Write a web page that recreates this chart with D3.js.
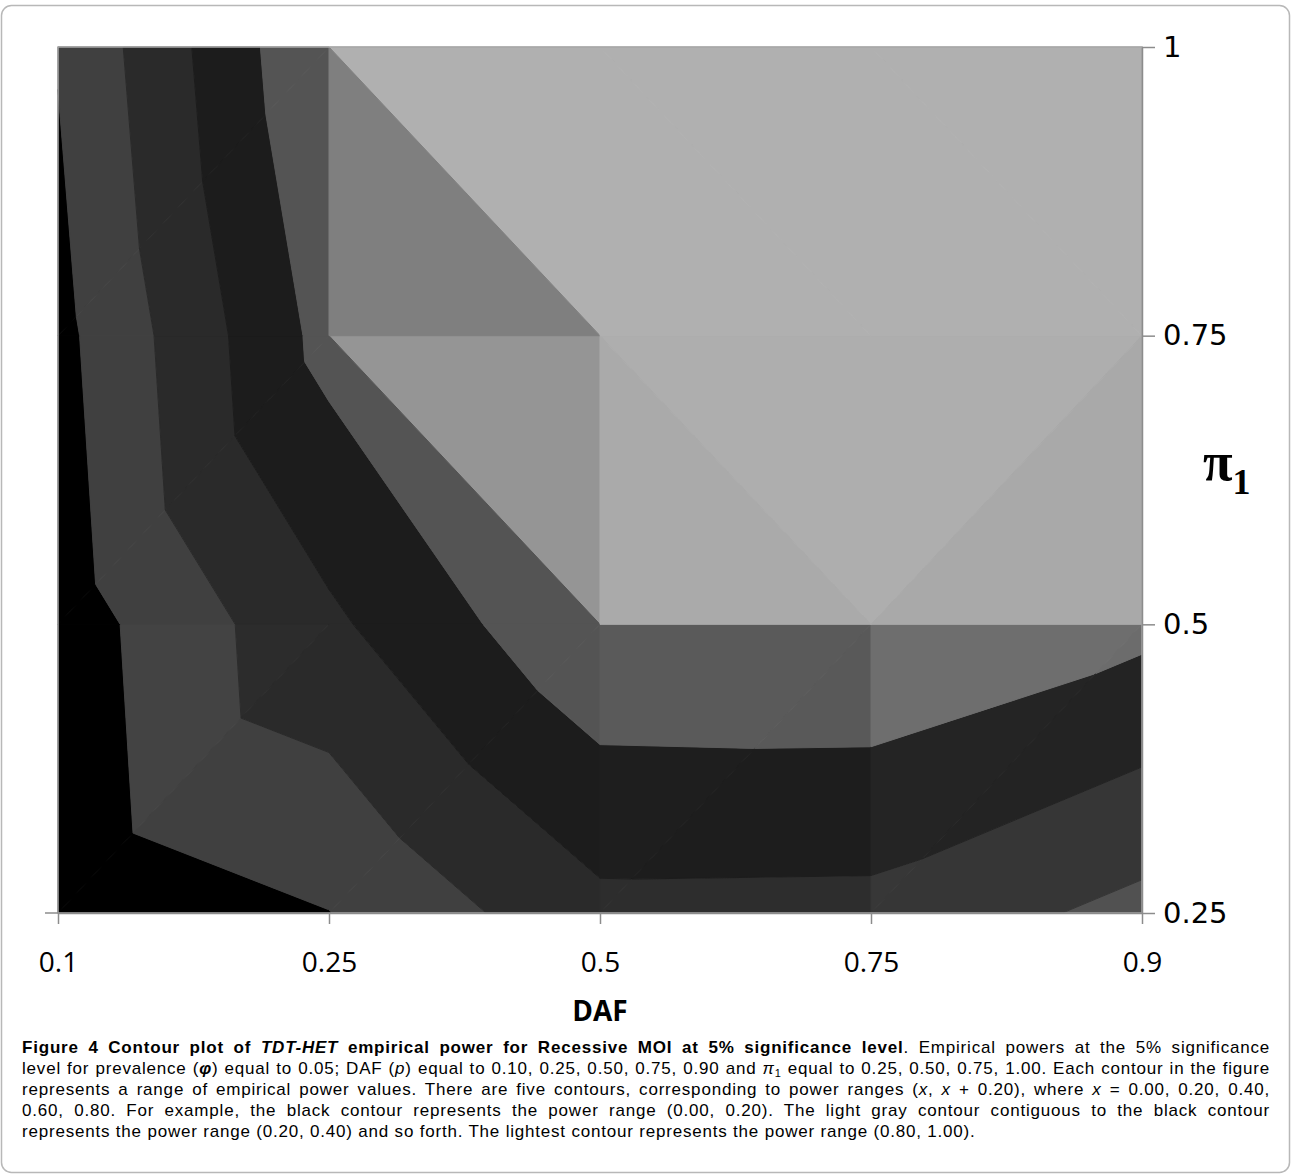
<!DOCTYPE html>
<html>
<head>
<meta charset="utf-8">
<script src="https://cdn.jsdelivr.net/npm/d3@7"></script>
<style>
  body { margin: 0; background: #fff; }
  text { fill: #000; }
</style>
</head>
<body>
<svg id="chart" width="1292" height="1176"></svg>
<script>

// DAF categories along x, pi1 levels along y
var dafLabels = ["0.1", "0.25", "0.5", "0.75", "0.9"];
var pi1Levels = [0.25, 0.5, 0.75, 1];

// empirical power, one row per pi1 level, across DAF
var power025 = [0.061, 0.196, 0.548, 0.542, 0.341];
var power050 = [0.092, 0.563, 0.98, 0.99, 0.853];
var power075 = [0.142, 0.87, 1.0, 1.0, 1.0];
var power100 = [0.21, 1.0, 1.0, 1.0, 1.0];

// contour breaks: power ranges of 0.20
var breaks = [0, 0.2, 0.4, 0.6, 0.8, 1.0];

// flat-surface gray for each band (excel grayscale surface style)
var bandGray = [0, 133, 88, 58, 176];

function drawChart() {

	var svg = d3.select("#chart");
	var grid = [power025, power050, power075, power100];

	var x = d3.scalePoint().domain(dafLabels).range([58, 1142]);
	var y = d3.scaleLinear().domain([0.25, 1]).range([913, 47]);

	// grid index -> pixel (categories are evenly spaced)
	var xi = d3.scaleLinear().domain([0, dafLabels.length - 1])
		.range([x(dafLabels[0]), x(dafLabels[dafLabels.length - 1])]);
	var yi = d3.scaleLinear().domain([0, pi1Levels.length - 1])
		.range([y(pi1Levels[0]), y(pi1Levels[pi1Levels.length - 1])]);

	// outer figure frame
	svg.append("rect")
		.attr("x", 1.5).attr("y", 5.5)
		.attr("width", 1288).attr("height", 1167)
		.attr("rx", 10)
		.style("fill", "none")
		.style("stroke", "#b8b8b8")
		.style("stroke-width", 1.5);

	// split every cell in two triangles along the diagonal with the higher sum
	var tris = [];
	for (var j = 0; j < pi1Levels.length - 1; j++) {
		for (var i = 0; i < dafLabels.length - 1; i++) {
			var bl = { i: i, j: j, v: grid[j][i] },
				br = { i: i + 1, j: j, v: grid[j][i + 1] },
				tl = { i: i, j: j + 1, v: grid[j + 1][i] },
				tr = { i: i + 1, j: j + 1, v: grid[j + 1][i + 1] };
			if (tl.v + br.v >= bl.v + tr.v) {
				tris.push([tl, tr, br]);
				tris.push([tl, br, bl]);
			} else {
				tris.push([bl, tr, tl]);
				tris.push([bl, br, tr]);
			}
		}
	}

	function clip(poly, t, above) {
		var out = [];
		for (var k = 0; k < poly.length; k++) {
			var a = poly[k], b = poly[(k + 1) % poly.length];
			var ina = above ? a.v >= t : a.v <= t;
			var inb = above ? b.v >= t : b.v <= t;
			if (ina) out.push(a);
			if (ina !== inb) {
				var s = (t - a.v) / (b.v - a.v);
				out.push({ i: a.i + s * (b.i - a.i), j: a.j + s * (b.j - a.j), v: t });
			}
		}
		return out;
	}

	// facet shading: light from upper right, some ambient
	function shade(tri) {
		var p0 = tri[0], p1 = tri[1], p2 = tri[2];
		var d1i = p1.i - p0.i, d1j = p1.j - p0.j, d1v = p1.v - p0.v;
		var d2i = p2.i - p0.i, d2j = p2.j - p0.j, d2v = p2.v - p0.v;
		var det = d1i * d2j - d2i * d1j;
		var gx = (d1v * d2j - d2v * d1j) / det;
		var gy = (d1i * d2v - d2i * d1v) / det;
		var diff = (1 - 1.89 * gx - 2.13 * gy) / Math.sqrt(1 + gx * gx + gy * gy);
		return 0.48 + 0.52 * Math.max(0, diff);
	}

	var line = d3.line()
		.x(function(p) { return xi(p.i); })
		.y(function(p) { return yi(p.j); });

	var pieces = [];
	tris.forEach(function(tri) {
		var L = shade(tri);
		for (var b = 0; b < breaks.length - 1; b++) {
			var poly = tri;
			if (b > 0) poly = clip(poly, breaks[b], true);
			if (b < breaks.length - 2) poly = clip(poly, breaks[b + 1], false);
			if (poly.length < 3) continue;
			var g = Math.min(255, Math.round(bandGray[b] * L));
			pieces.push({ poly: poly, color: d3.rgb(g, g, g).toString() });
		}
	});

	var plot = svg.append("g").attr("class", "contours");
	plot.selectAll("path")
		.data(pieces)
		.enter()
		.append("path")
		.attr("d", function(d) { return line(d.poly) + "Z"; })
		.style("fill", function(d) { return d.color; })
		.style("stroke", function(d) { return d.color; })
		.style("stroke-width", 1)
		.style("stroke-linejoin", "round");

	// plot area border
	svg.append("rect")
		.attr("x", 58).attr("y", 47)
		.attr("width", 1142 - 58).attr("height", 913 - 47)
		.style("fill", "none")
		.style("stroke", "#a6a6a6")
		.style("stroke-width", 1.5);

	// bottom axis (DAF)
	var xAxis = svg.append("g")
		.attr("class", "x axis")
		.attr("transform", "translate(0,913)")
		.call(d3.axisBottom(x).tickSize(11).tickSizeOuter(0).tickPadding(28));
	xAxis.selectAll("path, line").style("stroke", "#8c8c8c").style("stroke-width", 1.5);
	xAxis.selectAll("text")
		.style("font-family", "'Open Sans', sans-serif")
		.style("font-size", "28px")
		.style("fill", "#000");

	// stray depth tick on the left
	svg.append("line")
		.attr("x1", 45).attr("x2", 58)
		.attr("y1", y(0.25)).attr("y2", y(0.25))
		.style("stroke", "#8c8c8c").style("stroke-width", 1.5);

	// right axis (pi1)
	var yAxis = svg.append("g")
		.attr("class", "y axis")
		.attr("transform", "translate(1142,0)")
		.call(d3.axisRight(y).tickValues(pi1Levels).tickSize(13).tickSizeOuter(0).tickPadding(8)
			.tickFormat(function(d) { return String(d); }));
	yAxis.selectAll("path, line").style("stroke", "#8c8c8c").style("stroke-width", 1.5);
	yAxis.selectAll("text")
		.style("font-family", "'DejaVu Sans', sans-serif")
		.style("font-size", "29px")
		.style("fill", "#000");

	// axis titles
	svg.append("text")
		.attr("x", 600).attr("y", 1021)
		.attr("text-anchor", "middle")
		.style("font-family", "'Open Sans', sans-serif")
		.style("font-weight", 700)
		.style("font-size", "28px")
		.text("DAF");

	var piTitle = svg.append("text")
		.attr("x", 1203).attr("y", 480)
		.style("font-family", "'Liberation Serif', serif")
		.style("font-weight", 700)
		.style("font-size", "54px");
	piTitle.append("tspan").text("\u03c0");
	piTitle.append("tspan").attr("dy", 14).style("font-size", "36px").text("1");

	// caption
	var caption = [
		{ justify: true, segs: [
			{ t: "Figure 4 Contour plot of ", w: 700 },
			{ t: "TDT-HET", w: 700, it: true },
			{ t: " empirical power for Recessive MOI at 5% significance level", w: 700 },
			{ t: ". Empirical powers at the 5% significance" } ] },
		{ justify: true, segs: [
			{ t: "level for prevalence (" },
			{ t: "\u03c6", w: 700, it: true },
			{ t: ") equal to 0.05; DAF (" },
			{ t: "p", it: true },
			{ t: ") equal to 0.10, 0.25, 0.50, 0.75, 0.90 and " },
			{ t: "\u03c0", it: true },
			{ t: "1", sub: true },
			{ t: " equal to 0.25, 0.50, 0.75, 1.00. Each contour in the figure" } ] },
		{ justify: true, segs: [
			{ t: "represents a range of empirical power values. There are five contours, corresponding to power ranges (" },
			{ t: "x", it: true }, { t: ", " }, { t: "x", it: true },
			{ t: " + 0.20), where " }, { t: "x", it: true },
			{ t: " = 0.00, 0.20, 0.40," } ] },
		{ justify: true, segs: [
			{ t: "0.60, 0.80. For example, the black contour represents the power range (0.00, 0.20). The light gray contour contiguous to the black contour" } ] },
		{ justify: false, segs: [
			{ t: "represents the power range (0.20, 0.40) and so forth. The lightest contour represents the power range (0.80, 1.00)." } ] }
	];

	var capWidth = 1248;
	var cap = svg.append("g").attr("class", "caption");
	caption.forEach(function(row, r) {
		var txt = cap.append("text")
			.attr("x", 22)
			.attr("y", 1053 + r * 21)
			.style("font-family", "'Liberation Sans', Arial, sans-serif")
			.style("font-size", "17px")
			.style("letter-spacing", "0.8px");
		var afterSub = false;
		row.segs.forEach(function(s) {
			var ts = txt.append("tspan").text(s.t);
			if (s.w) ts.style("font-weight", s.w);
			if (s.it) ts.style("font-style", "italic");
			if (s.sub) ts.attr("dy", 3).style("font-size", "11px");
			else if (afterSub) ts.attr("dy", -3);
			afterSub = !!s.sub;
		});
		if (row.justify) {
			// spread the slack over the word gaps, like the journal layout
			var natural = txt.node().getComputedTextLength();
			var gaps = row.segs.map(function(s) { return s.t; }).join("").split(" ").length - 1;
			txt.style("word-spacing", Math.max(0, (capWidth - natural) / gaps) + "px");
		}
	});

	return;
}

drawChart();
</script>
</body>
</html>
